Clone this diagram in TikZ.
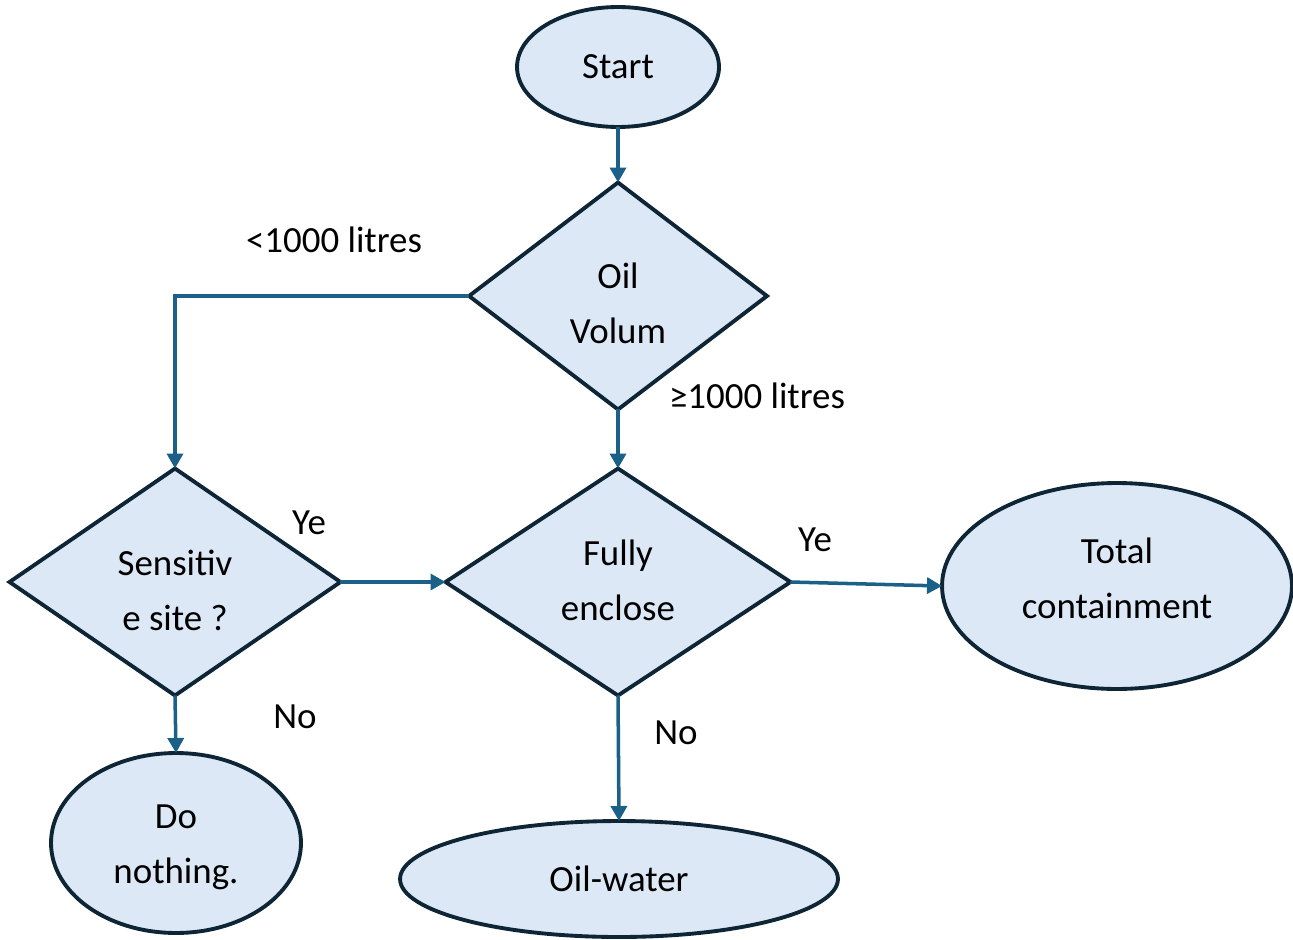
\documentclass[tikz,border=0pt]{standalone}
\usepackage{fontspec}
\setmainfont{Carlito}
\usetikzlibrary{shapes.geometric,arrows.meta}
\definecolor{boxfill}{HTML}{DCE8F5}
\definecolor{boxline}{HTML}{0E2535}
\definecolor{arrowc}{HTML}{1B6187}
\newcommand{\shiftedlines}[2]{\raisebox{\dimexpr#1-5.25pt\relax}[0pt][0pt]{\begin{tabular}{@{}c@{}}#2\end{tabular}}}
\tikzset{
  base/.style={draw=boxline, fill=boxfill, line width=2.2pt, inner sep=0pt, outer sep=0pt,
    align=center, font=\fontsize{21}{31}\selectfont},
  oval/.style={base, ellipse},
  decision/.style={base, diamond},
  conn/.style={draw=arrowc, line width=2pt, -{Triangle[length=0.3cm,width=0.32cm]}},
  lbl/.style={font=\fontsize{21}{31}\selectfont, inner sep=0pt}
}
\begin{document}
\begin{tikzpicture}[x=0.02cm, y=-0.02cm]
\useasboundingbox (0,0) rectangle (1293,939);
\node[oval, minimum width=4.04cm, minimum height=2.4cm] (start) at (618,67) {Start};
\node[decision, minimum width=5.96cm, minimum height=4.54cm] (oil) at (618,296) {\shiftedlines{-0.18cm}{Oil\\Volum}};
\node[decision, minimum width=6.9cm, minimum height=4.54cm] (fully) at (618,582) {\shiftedlines{0cm}{Fully\\enclose}};
\node[decision, minimum width=6.62cm, minimum height=4.54cm] (sens) at (175,582) {\shiftedlines{-0.2cm}{Sensitiv\\e site ?}};
\node[oval, minimum width=7.0cm, minimum height=4.12cm] (total) at (1117,586) {\shiftedlines{0.12cm}{Total\\containment}};
\node[oval, minimum width=5.0cm, minimum height=3.6cm] (nothing) at (176,843) {\shiftedlines{-0.04cm}{Do\\nothing.}};
\node[oval, minimum width=8.76cm, minimum height=2.32cm] (ow) at (619,879) {Oil-water};

\draw[conn] (start.south) -- (oil.north);
\draw[conn] (oil.west) -| (sens.north);
\draw[conn] (oil.south) -- (fully.north);
\draw[conn] (sens.east) -- (fully.west);
\draw[conn] (fully.east) -- (total.west);
\draw[conn] (sens.south) -- (nothing.north);
\draw[conn] (fully.south) -- (ow.north);

\node[lbl] (l1) at (334,240) {<1000 litres};
\node[lbl] (l2) at (757,396) {≥1000 litres};
\node[lbl] (l3) at (309,523) {Ye};
\node[lbl] (l4) at (815,540) {Ye};
\node[lbl] (l5) at (295,717) {No};
\node[lbl] (l6) at (676,733) {No};
\end{tikzpicture}
\end{document}
